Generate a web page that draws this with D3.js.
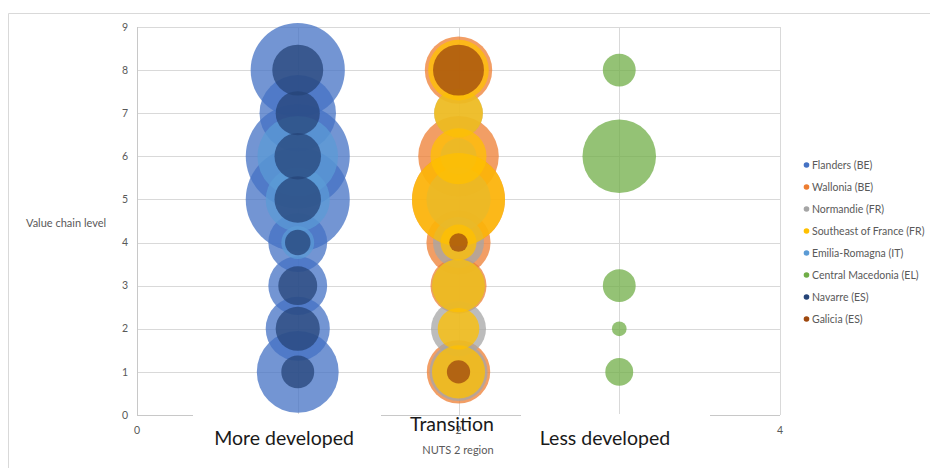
<!DOCTYPE html>
<html>
<head>
<meta charset="utf-8">
<script src="https://cdn.jsdelivr.net/npm/d3@7"></script>
<style>
  body { margin: 0; background: #fff; }
  text { font-family: Lato, "Open Sans", sans-serif; }
</style>
</head>
<body>
<svg id="chart" width="930" height="468"></svg>
<script>
// series (Excel draw order)
const seriesNames = ["Flanders (BE)", "Wallonia (BE)", "Normandie (FR)", "Southeast of France (FR)",
  "Emilia-Romagna (IT)", "Central Macedonia (EL)", "Navarre (ES)", "Galicia (ES)"];
const seriesColors = ["#4472C4", "#ED7D31", "#A5A5A5", "#FFC000", "#5B9BD5", "#70AD47", "#264478", "#9E480E"];

// region type (x) per series
const seriesRegion = [1, 2, 2, 2, 1, 3, 1, 2];

// value chain levels and bubble sizes per series
const flandersLevels = [8, 7, 6, 5, 4, 3, 2, 1];
const flandersSizes  = [41, 27, 50, 50, 16, 16, 19, 31];
const walloniaLevels = [8, 6, 5, 4, 3, 1];
const walloniaSizes  = [21, 30, 40, 19, 14.5, 18.6];
const normandieLevels = [7, 6, 5, 4, 3, 2, 1];
const normandieSizes  = [11, 6, 19, 12, 13, 14, 15.6];
const southeastLevels = [8, 7, 6, 5, 4, 3, 2, 1];
const southeastSizes  = [17, 11, 14.5, 40, 6, 13, 8, 13];
const emiliaLevels = [6, 5, 4];
const emiliaSizes  = [30, 19, 5];
const macedoniaLevels = [8, 6, 3, 2, 1];
const macedoniaSizes  = [5, 25, 5, 1, 3.6];
const navarreLevels = [8, 7, 6, 5, 4, 3, 2, 1];
const navarreSizes  = [12, 9, 10, 10, 3, 7, 9, 5];
const galiciaLevels = [8, 4, 1];
const galiciaSizes  = [12, 1.6, 2.5];

const seriesLevels = [flandersLevels, walloniaLevels, normandieLevels, southeastLevels,
  emiliaLevels, macedoniaLevels, navarreLevels, galiciaLevels];
const seriesSizes = [flandersSizes, walloniaSizes, normandieSizes, southeastSizes,
  emiliaSizes, macedoniaSizes, navarreSizes, galiciaSizes];

const yTicks = [0, 1, 2, 3, 4, 5, 6, 7, 8, 9];
const xTicks = [0, 2, 4];
const regionLabels = ["More developed", "Transition", "Less developed"];

const svg = d3.select("#chart");

const x = d3.scaleLinear().domain([0, 4]).range([137, 780]);
const y = d3.scaleLinear().domain([0, 9]).range([415, 27]);
const r = d3.scaleSqrt().domain([0, 50]).range([0, 52]);

// chart frame
svg.append("path")
  .attr("d", "M8.5,468 V13.5 H930")
  .style("fill", "none")
  .style("stroke", "#d9d9d9");

// gridlines
svg.selectAll("line.gy")
  .data(yTicks.slice(1))
  .enter().append("line")
  .attr("x1", x(0)).attr("x2", x(4))
  .attr("y1", d => Math.round(y(d)) + 0.5).attr("y2", d => Math.round(y(d)) + 0.5)
  .style("stroke", "#d9d9d9");

svg.selectAll("line.gx")
  .data([1, 2, 3, 4])
  .enter().append("line")
  .attr("x1", d => Math.round(x(d)) + 0.5).attr("x2", d => Math.round(x(d)) + 0.5)
  .attr("y1", y(9)).attr("y2", y(0))
  .style("stroke", "#d9d9d9");

// axis lines
svg.append("line")
  .attr("x1", x(0) + 0.5).attr("x2", x(0) + 0.5)
  .attr("y1", y(9)).attr("y2", y(0))
  .style("stroke", "#c8c8c8");
svg.append("line")
  .attr("x1", x(0)).attr("x2", x(4))
  .attr("y1", y(0) + 0.5).attr("y2", y(0) + 0.5)
  .style("stroke", "#c8c8c8");

// tick labels
svg.selectAll("text.ty")
  .data(yTicks)
  .enter().append("text")
  .attr("x", 128)
  .attr("y", d => y(d))
  .attr("dy", "0.35em")
  .attr("text-anchor", "end")
  .style("font-size", "10.5px")
  .style("fill", "#595959")
  .text(d => d);

svg.selectAll("text.tx")
  .data(xTicks)
  .enter().append("text")
  .attr("x", d => x(d))
  .attr("y", 434)
  .attr("text-anchor", "middle")
  .style("font-size", "10.5px")
  .style("fill", "#595959")
  .text(d => d);

svg.append("text")
  .attr("x", 26).attr("y", 223)
  .attr("dy", "0.35em")
  .style("font-size", "11px")
  .style("fill", "#595959")
  .text("Value chain level");

// bubbles
seriesNames.forEach((name, i) => {
  let pts = seriesLevels[i].map((lv, j) => ({x: seriesRegion[i], y: lv, s: seriesSizes[i][j]}));
  pts.sort((a, b) => b.s - a.s);
  svg.append("g")
    .selectAll("circle")
    .data(pts)
    .enter().append("circle")
    .attr("cx", d => x(d.x))
    .attr("cy", d => y(d.y))
    .attr("r", d => r(d.s))
    .style("fill", seriesColors[i])
    .style("fill-opacity", 0.75);
});

// text boxes under the axis
const boxes = svg.append("g");
[{x0: 193, x1: 381}, {x0: 521, x1: 710}].forEach(b => {
  boxes.append("rect")
    .attr("x", b.x0).attr("y", 414)
    .attr("width", b.x1 - b.x0).attr("height", 40)
    .style("fill", "#fff");
});

svg.selectAll("text.region")
  .data(regionLabels)
  .enter().append("text")
  .attr("x", (d, i) => [284, 452, 605][i])
  .attr("y", (d, i) => [445, 431, 445][i])
  .attr("text-anchor", "middle")
  .style("font-size", "19.5px")
  .style("fill", "#1a1a1a")
  .text(d => d);

svg.append("text")
  .attr("x", 458).attr("y", 454)
  .attr("text-anchor", "middle")
  .style("font-size", "11px")
  .style("fill", "#595959")
  .text("NUTS 2 region");

// legend
const legend = svg.append("g");
const ly = d3.scaleLinear().domain([0, 7]).range([165, 319]);
legend.selectAll("circle")
  .data(seriesNames)
  .enter().append("circle")
  .attr("cx", 806.5)
  .attr("cy", (d, i) => ly(i))
  .attr("r", 2.8)
  .style("fill", (d, i) => seriesColors[i]);
legend.selectAll("text")
  .data(seriesNames)
  .enter().append("text")
  .attr("x", 812)
  .attr("y", (d, i) => ly(i))
  .attr("dy", "0.35em")
  .style("font-size", "10.5px")
  .style("fill", "#595959")
  .text(d => d);
</script>
</body>
</html>
